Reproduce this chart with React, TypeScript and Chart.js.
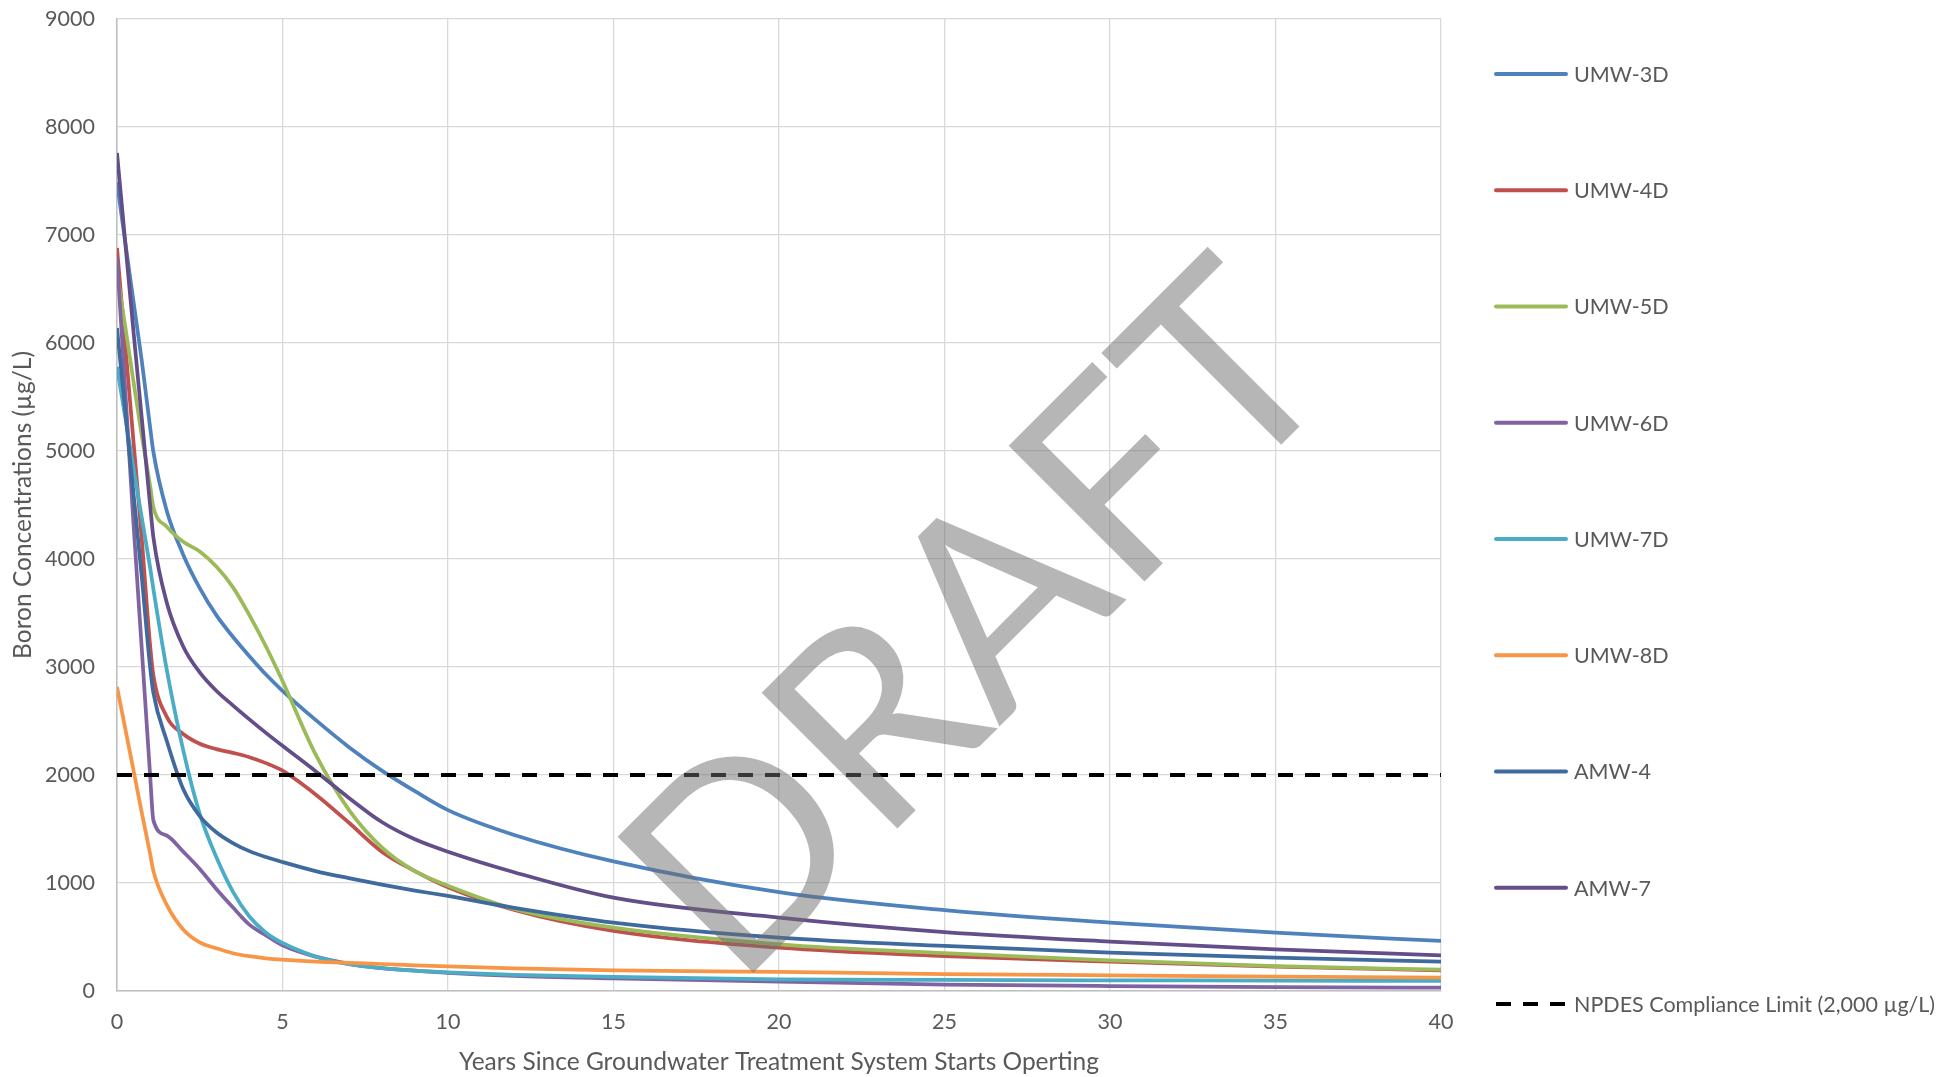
import React, { useEffect, useRef } from 'react';
import { Chart, registerables } from 'chart.js';

Chart.register(...registerables);

// Years since the treatment system starts operating
const years = [0, 0.25, 0.5, 0.75, 1, 1.1, 1.5, 2, 2.5, 3, 3.5, 4, 4.5, 5, 6, 7, 8, 9, 10, 12, 15, 20, 25, 30, 35, 40];

// Boron concentrations (ug/L)
const umw3d = [7490, 6930, 6380, 5830, 5220, 4990, 4450, 4040, 3730, 3480, 3280, 3100, 2930, 2780, 2510, 2260, 2040, 1850, 1675, 1445, 1200, 915, 748, 633, 540, 463];
const umw4d = [6880, 5980, 5080, 4180, 3200, 2920, 2540, 2380, 2290, 2240, 2205, 2165, 2110, 2040, 1820, 1560, 1290, 1110, 960, 750, 556, 401, 324, 272, 225, 192];
const umw5d = [6650, 6150, 5640, 5140, 4680, 4480, 4300, 4160, 4070, 3930, 3740, 3480, 3190, 2870, 2190, 1680, 1330, 1110, 975, 760, 586, 432, 350, 284, 231, 198];
const umw6d = [6790, 5560, 4320, 3160, 2000, 1580, 1440, 1290, 1130, 945, 775, 615, 515, 423, 318, 252, 212, 188, 168, 140, 117, 86, 60, 46, 37, 31];
const umw7d = [5780, 5310, 4840, 4380, 3920, 3720, 2980, 2230, 1640, 1240, 920, 690, 540, 445, 320, 248, 212, 188, 172, 150, 130, 108, 102, 99, 96, 93];
const umw8d = [2815, 2430, 2040, 1650, 1270, 1110, 800, 570, 450, 395, 350, 322, 303, 290, 272, 260, 250, 238, 228, 210, 191, 176, 157, 145, 133, 123];
const amw4 = [6140, 5370, 4600, 3830, 3000, 2760, 2320, 1870, 1620, 1470, 1370, 1295, 1240, 1194, 1110, 1045, 985, 930, 880, 770, 633, 494, 417, 355, 309, 272];
const amw7 = [7760, 6930, 6100, 5300, 4500, 4200, 3600, 3190, 2950, 2780, 2645, 2515, 2390, 2270, 2035, 1790, 1565, 1405, 1290, 1100, 864, 679, 545, 457, 386, 330];

const seriesNames = ['UMW-3D', 'UMW-4D', 'UMW-5D', 'UMW-6D', 'UMW-7D', 'UMW-8D', 'AMW-4', 'AMW-7'];
const seriesValues = [umw3d, umw4d, umw5d, umw6d, umw7d, umw8d, amw4, amw7];
const seriesColors = ['#4F81BD', '#C0504D', '#9BBB59', '#8064A2', '#4BACC6', '#F79646', '#3E6A9E', '#644E8A'];

const limitName = 'NPDES Compliance Limit (2,000 µg/L)';
const limitValue = 2000;
const limitYears = [0, 40];

const FONT = "Lato, 'Open Sans', sans-serif";
const TEXT = '#595959';

// legend drawn as a single column on the right, like the Excel original
const sideLegend = {
  id: 'sideLegend',
  afterDraw(chart: any) {
    const { ctx, chartArea } = chart;
    const x1 = chartArea.right + 55;
    const x2 = x1 + 70;
    const top = 74;
    const step = (1004 - 74) / 8;
    ctx.save();
    ctx.font = `21.5px ${FONT}`;
    ctx.textBaseline = 'middle';
    ctx.fillStyle = TEXT;
    chart.data.datasets.forEach((ds: any, i: number) => {
      const y = top + i * step;
      ctx.beginPath();
      ctx.strokeStyle = ds.borderColor;
      ctx.lineWidth = 4;
      ctx.lineCap = ds.borderDash ? 'butt' : 'round';
      ctx.setLineDash(ds.borderDash || []);
      ctx.moveTo(x1, y);
      ctx.lineTo(x2, y);
      ctx.stroke();
      ctx.setLineDash([]);
      ctx.fillText(ds.label, x2 + 8, y + 1);
    });
    ctx.restore();
  },
};

const watermark = {
  id: 'watermark',
  afterDatasetsDraw(chart: any) {
    const { ctx } = chart;
    ctx.save();
    ctx.translate(736, 990);
    ctx.rotate(-Math.PI / 4);
    ctx.font = `268px ${FONT}`;
    ctx.fillStyle = 'rgba(110, 110, 110, 0.5)';
    ctx.textAlign = 'left';
    ctx.textBaseline = 'alphabetic';
    ctx.fillText('DRAFT', 0, 0);
    ctx.restore();
  },
};

const App: React.FC = () => {
  const canvasRef = useRef<HTMLCanvasElement>(null);
  const chartRef = useRef<Chart | null>(null);

  useEffect(() => {
    document.body.style.margin = '0';
    if (!canvasRef.current) return;
    if (chartRef.current) chartRef.current.destroy();

    const datasets: any[] = seriesNames.map((name, i) => ({
      label: name,
      data: years.map((x, j) => ({ x, y: seriesValues[i][j] })),
      borderColor: seriesColors[i],
      backgroundColor: seriesColors[i],
      borderWidth: 3.75,
      pointRadius: 0,
      cubicInterpolationMode: 'monotone',
      fill: false,
      order: 9 - i,
    }));
    datasets.push({
      label: limitName,
      data: limitYears.map((x) => ({ x, y: limitValue })),
      borderColor: '#000000',
      backgroundColor: '#000000',
      borderWidth: 4,
      borderDash: [15, 12],
      pointRadius: 0,
      fill: false,
      order: 0,
    });

    chartRef.current = new Chart(canvasRef.current, {
      type: 'line',
      data: { datasets },
      plugins: [watermark, sideLegend],
      options: {
        responsive: true,
        maintainAspectRatio: false,
        animation: false,
        layout: { padding: { top: 19, right: 518, left: 0, bottom: 0 } },
        plugins: {
          legend: { display: false },
          tooltip: { enabled: false },
        },
        scales: {
          x: {
            type: 'linear',
            min: 0,
            max: 40,
            ticks: { stepSize: 5, color: TEXT, font: { family: FONT, size: 21.5 }, padding: 18 },
            grid: { color: '#D9D9D9', lineWidth: 1.3, drawTicks: false },
            border: { color: '#BFBFBF', width: 1.5 },
            title: {
              display: true,
              text: 'Years Since Groundwater Treatment System Starts Operting',
              color: TEXT,
              font: { family: FONT, size: 24.5 },
              padding: { top: 0, bottom: 0 },
            },
            afterFit: (s: any) => { s.height = 86; },
          },
          y: {
            min: 0,
            max: 9000,
            ticks: {
              stepSize: 1000,
              color: TEXT,
              font: { family: FONT, size: 21.5 },
              padding: 0,
              callback: (v: any) => String(v),
            },
            // invisible tick marks give the gap between labels and plot
            grid: { color: '#D9D9D9', lineWidth: 1.3, drawTicks: true, tickLength: 22, tickColor: 'rgba(0,0,0,0)' },
            border: { color: '#BFBFBF', width: 1.5 },
            title: {
              display: true,
              text: 'Boron Concentrations (µg/L)',
              color: TEXT,
              font: { family: FONT, size: 24.5 },
              padding: { top: 8, bottom: 0 },
            },
            afterFit: (s: any) => { s.width = 117; },
          },
        },
      },
    });

    return () => {
      if (chartRef.current) {
        chartRef.current.destroy();
        chartRef.current = null;
      }
    };
  }, []);

  return (
    <div style={{ width: '1959px', height: '1077px', position: 'relative' }}>
      <canvas ref={canvasRef} />
    </div>
  );
};

export default App;
